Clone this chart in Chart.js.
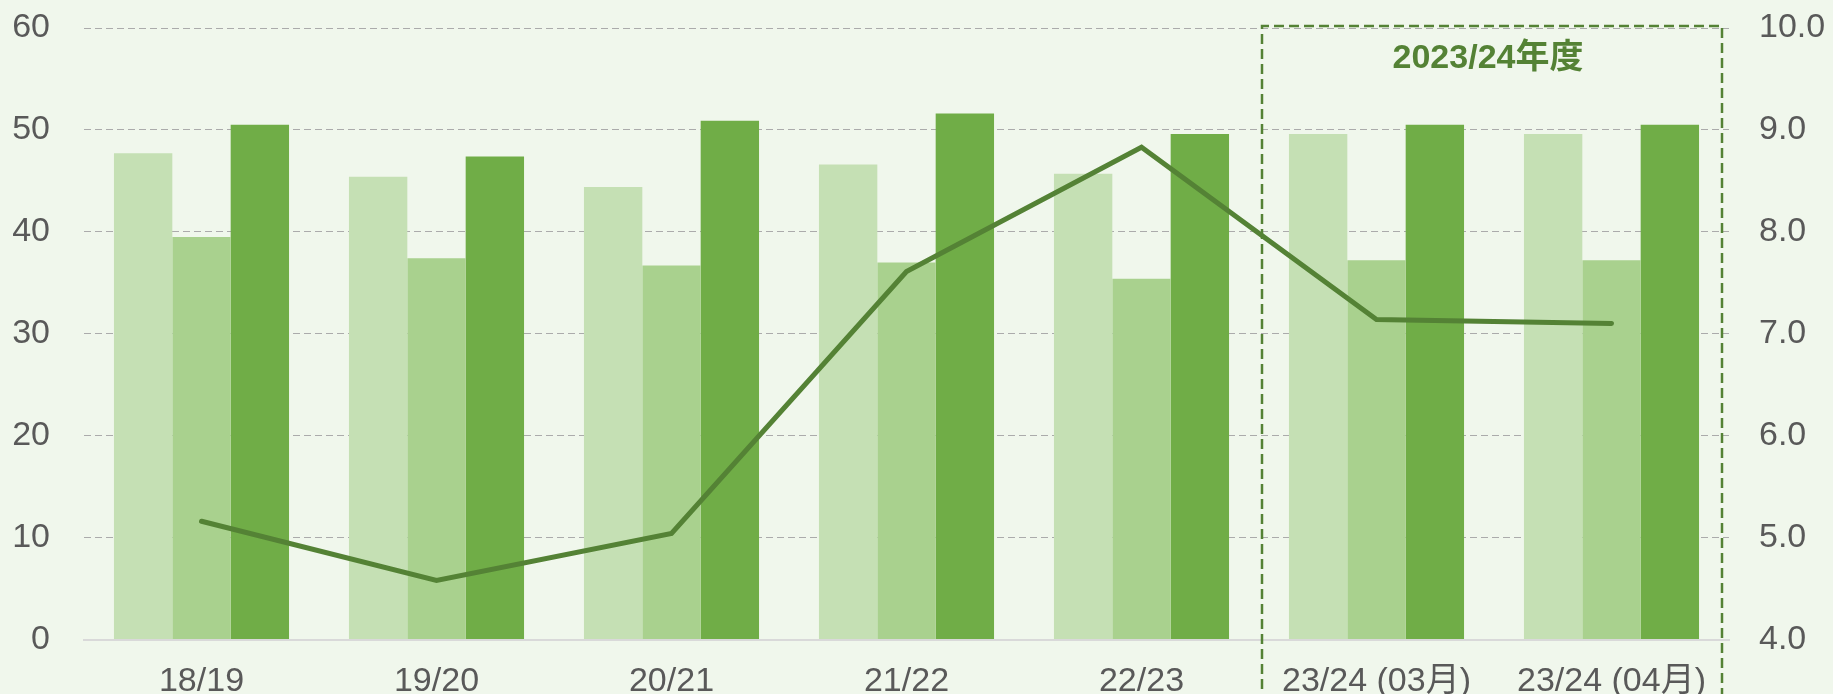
<!DOCTYPE html>
<html>
<head>
<meta charset="utf-8">
<script src="https://cdn.jsdelivr.net/npm/chart.js@4/dist/chart.umd.min.js"></script>
<style>
  html, body { margin: 0; padding: 0; background: #F0F7EC; }
  #wrap { width: 1833px; height: 694px; position: relative; }
</style>
</head>
<body>
<div id="wrap"><canvas id="c" width="1833" height="694"></canvas></div>
<script>
const categories = ['18/19', '19/20', '20/21', '21/22', '22/23', '23/24 (03月)', '23/24 (04月)'];
const seriesLight = [47.7, 45.4, 44.4, 46.6, 45.7, 49.6, 49.6];
const seriesMid   = [39.5, 37.4, 36.7, 37.0, 35.4, 37.2, 37.2];
const seriesDark  = [50.5, 47.4, 50.9, 51.6, 49.6, 50.5, 50.5];
const lineValues  = [5.16, 4.58, 5.04, 7.61, 8.83, 7.14, 7.10];
const leftTicks  = [0, 10, 20, 30, 40, 50, 60];
const rightTicks = [4, 5, 6, 7, 8, 9, 10];
const boxLabel = '2023/24年度';
const boxFirstIndex = 5;

const FONT = '"Liberation Sans", Arial, "Noto Sans CJK JP", sans-serif';

const boxPlugin = {
  id: 'boxPlugin',
  afterDraw(chart) {
    const ctx = chart.ctx;
    const x = chart.scales.x;
    const area = chart.chartArea;
    const cat = (x.getPixelForValue(1) - x.getPixelForValue(0));
    const left = x.getPixelForValue(boxFirstIndex) - cat / 2 + 3;
    const right = area.right - 7;
    const top = area.top - 2;
    const bottom = chart.height + 10;
    ctx.save();
    ctx.strokeStyle = '#548235';
    ctx.lineWidth = 2.5;
    ctx.setLineDash([10, 5]);
    ctx.beginPath();
    ctx.moveTo(left, bottom);
    ctx.lineTo(left, top);
    ctx.lineTo(right, top);
    ctx.lineTo(right, bottom);
    ctx.stroke();
    ctx.setLineDash([]);
    ctx.fillStyle = '#548235';
    ctx.font = 'bold 34px ' + FONT;
    ctx.textAlign = 'center';
    ctx.textBaseline = 'middle';
    ctx.fillText(boxLabel, (left + right) / 2 - 4, area.top + 31);
    ctx.restore();
  }
};

function noVPad(s) { s.paddingTop = 0; s.paddingBottom = 0; }

new Chart(document.getElementById('c'), {
  data: {
    labels: categories,
    datasets: [
      { type: 'line', data: lineValues, yAxisID: 'y2', borderColor: '#548235', borderWidth: 5,
        pointRadius: 0, tension: 0, order: 0, borderCapStyle: 'round', borderJoinStyle: 'miter' },
      { type: 'bar', data: seriesLight, yAxisID: 'y', backgroundColor: '#C5E0B4', order: 1,
        barPercentage: 1, categoryPercentage: 0.745 },
      { type: 'bar', data: seriesMid, yAxisID: 'y', backgroundColor: '#A9D18E', order: 1,
        barPercentage: 1, categoryPercentage: 0.745 },
      { type: 'bar', data: seriesDark, yAxisID: 'y', backgroundColor: '#70AD47', order: 1,
        barPercentage: 1, categoryPercentage: 0.745 }
    ]
  },
  options: {
    responsive: false,
    animation: false,
    layout: { padding: { top: 28, left: 0, right: 0, bottom: 0 } },
    plugins: { legend: { display: false }, tooltip: { enabled: false } },
    scales: {
      x: {
        grid: { display: false },
        border: { display: true, color: '#D9D9D9', width: 2 },
        ticks: { color: '#595959', font: { family: FONT, size: 34 }, padding: 14, maxRotation: 0, autoSkip: false },
        afterFit(s) { s.height = 694 - 639.5; s.paddingLeft = 0; s.paddingRight = 0; }
      },
      y: {
        position: 'left', min: 0, max: 60,
        afterBuildTicks(s) { s.ticks = leftTicks.map(v => ({ value: v })); },
        grid: { color: c => (c.tick && c.tick.value === 0) ? 'rgba(0,0,0,0)' : '#ABABAB', lineWidth: 1, drawTicks: false },
        border: { display: false, dash: [7, 4] },
        ticks: { color: '#595959', font: { family: FONT, size: 34 }, padding: 34 },
        afterFit(s) { s.width = 84; noVPad(s); }
      },
      y2: {
        position: 'right', min: 4, max: 10,
        afterBuildTicks(s) { s.ticks = rightTicks.map(v => ({ value: v })); },
        grid: { display: false, drawTicks: false },
        border: { display: false },
        ticks: { color: '#595959', font: { family: FONT, size: 34 }, padding: 30, callback: v => Number(v).toFixed(1) },
        afterFit(s) { s.width = 104; noVPad(s); }
      }
    }
  },
  plugins: [boxPlugin]
});
</script>
</body>
</html>
